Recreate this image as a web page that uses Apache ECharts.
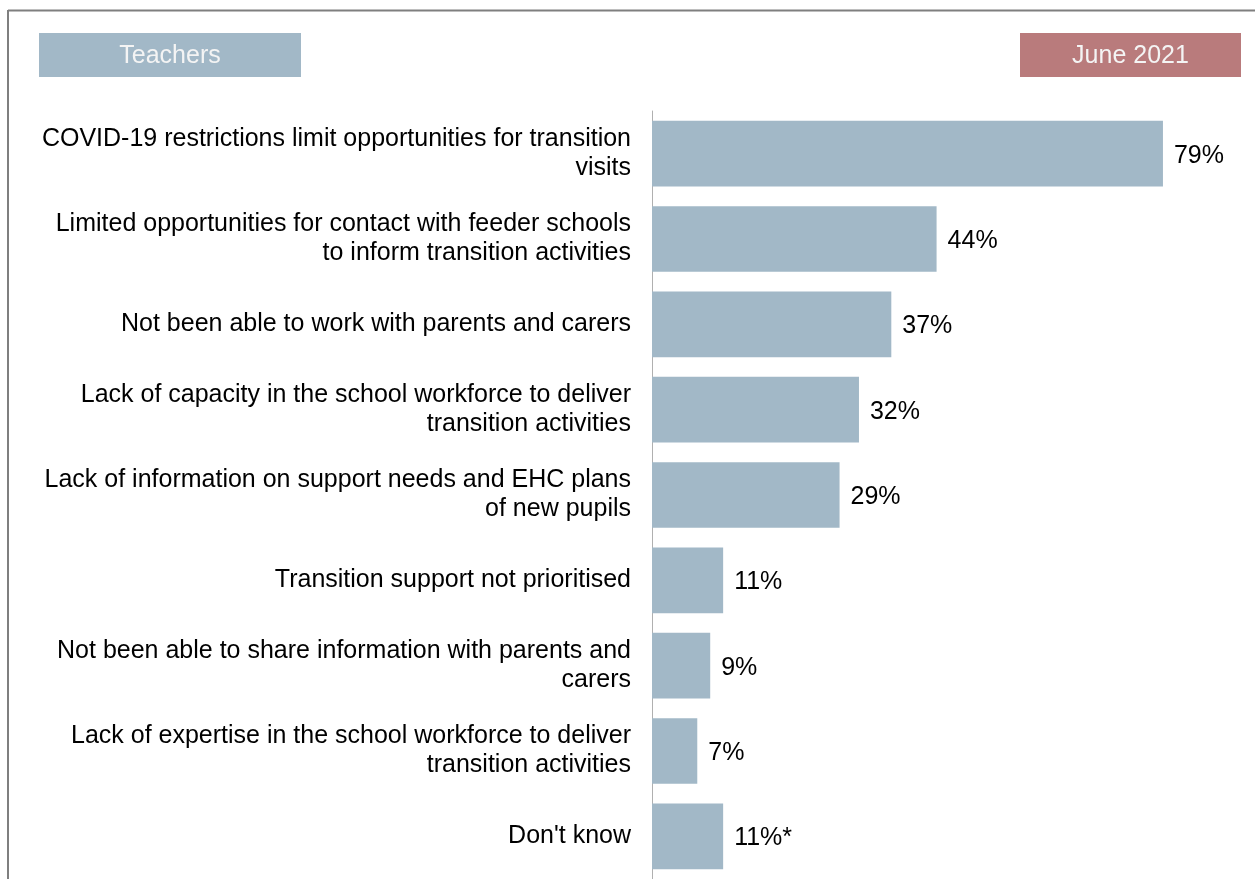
<!DOCTYPE html>
<html>
<head>
<meta charset="utf-8">
<style>
  html, body { margin: 0; padding: 0; background: #ffffff; }
  #chart { width: 1255px; height: 879px; }
</style>
<script src="https://cdn.jsdelivr.net/npm/echarts@6/dist/echarts.min.js"></script>
</head>
<body>
<div id="chart"></div>
<script>
// Barriers to transition support reported by teachers
const categories = [
  'COVID-19 restrictions limit opportunities for transition\nvisits',
  'Limited opportunities for contact with feeder schools\nto inform transition activities',
  'Not been able to work with parents and carers',
  'Lack of capacity in the school workforce to deliver\ntransition activities',
  'Lack of information on support needs and EHC plans\nof new pupils',
  'Transition support not prioritised',
  'Not been able to share information with parents and\ncarers',
  'Lack of expertise in the school workforce to deliver\ntransition activities',
  "Don't know"
];
const values = [79, 44, 37, 32, 29, 11, 9, 7, 11];
const labelSuffix = ['', '', '', '', '', '', '', '', '*'];
const groupLabel = 'Teachers';
const periodLabel = 'June 2021';

const chart = echarts.init(document.getElementById('chart'));
const FONT = 'Liberation Sans, Arial, sans-serif';

chart.setOption({
  animation: false,
  textStyle: { fontFamily: FONT },
  grid: { left: 652, width: 582.1, top: 111, height: 770, containLabel: false },
  xAxis: {
    type: 'value', min: 0, max: 90,
    show: false
  },
  yAxis: {
    type: 'category',
    data: categories,
    inverse: true,
    axisLine: { show: true, lineStyle: { color: '#b0b0b0', width: 1 } },
    axisTick: { show: false },
    axisLabel: {
      margin: 21, fontSize: 25, lineHeight: 29, color: '#000000',
      fontFamily: FONT, align: 'right'
    }
  },
  series: [{
    type: 'bar',
    data: values,
    barCategoryGap: '23%',
    itemStyle: { color: '#a2b8c7' },
    label: {
      show: true, position: 'right', distance: 11, offset: [0, 2],
      fontSize: 25, color: '#000000', fontFamily: FONT,
      formatter: p => p.value + '%' + labelSuffix[p.dataIndex]
    }
  }],
  graphic: [
    { type: 'line', shape: { x1: 8, y1: 10.5, x2: 1255, y2: 10.5 }, style: { stroke: '#7f7f7f', lineWidth: 2 } },
    { type: 'line', shape: { x1: 8, y1: 10, x2: 8, y2: 879 }, style: { stroke: '#7f7f7f', lineWidth: 2 } },
    { type: 'rect', shape: { x: 39, y: 33, width: 262, height: 44 }, style: { fill: '#a2b8c7' } },
    { type: 'text', x: 170, y: 56.5, style: { text: groupLabel, fill: '#f4f4f4', fontSize: 25, fontFamily: FONT, align: 'center', verticalAlign: 'middle' } },
    { type: 'rect', shape: { x: 1020, y: 33, width: 221, height: 44 }, style: { fill: '#b97b7c' } },
    { type: 'text', x: 1130.5, y: 56.5, style: { text: periodLabel, fill: '#f4f4f4', fontSize: 25, fontFamily: FONT, align: 'center', verticalAlign: 'middle' } }
  ]
});
</script>
</body>
</html>
